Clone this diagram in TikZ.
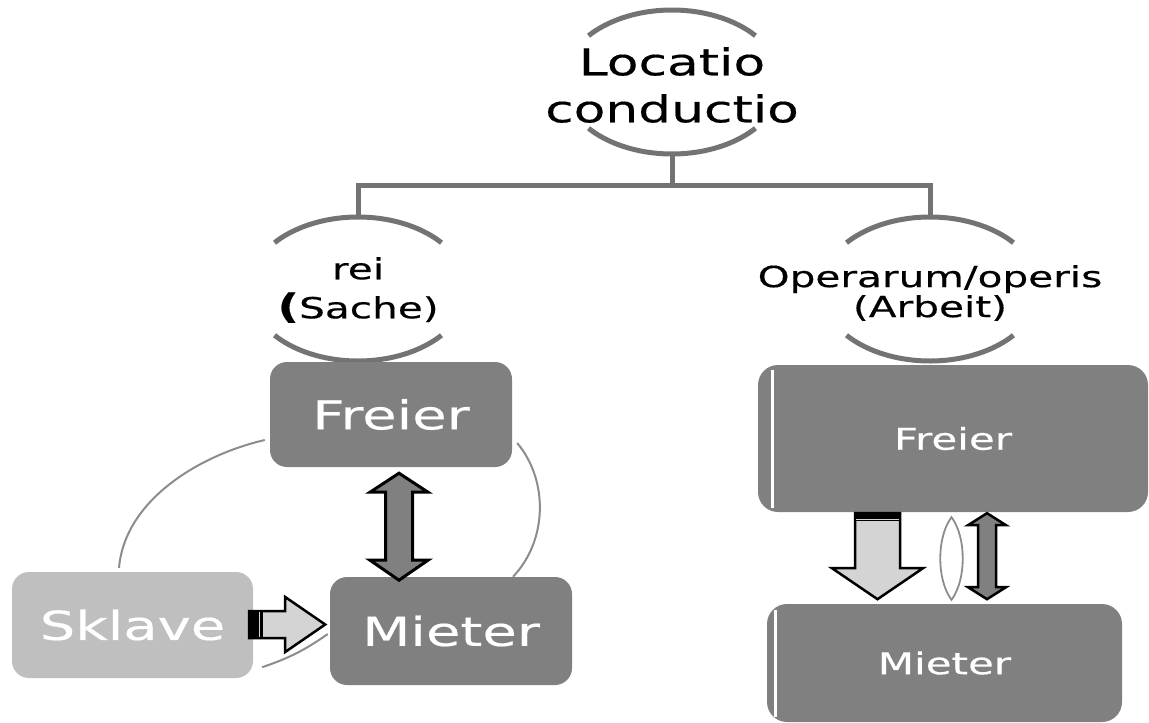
\documentclass[tikz,border=0pt]{standalone}
\usepackage{fontspec}
\setmainfont{DejaVu Sans}[FakeStretch=1.4,FakeBold=0.4]
\usetikzlibrary{shapes.geometric}
\definecolor{boxgray}{RGB}{128,128,128}
\definecolor{slavegray}{RGB}{191,191,191}
\definecolor{linegray}{RGB}{115,115,115}
\definecolor{thingray}{RGB}{140,140,140}
\definecolor{shaftgray}{RGB}{212,212,212}

\begin{document}
\begin{tikzpicture}[x=1pt,y=1pt,
    circ node/.style={ellipse,minimum width=218pt,minimum height=144pt,inner sep=0pt},
    circ arc/.style={linegray,line width=5pt},
    tree line/.style={linegray,line width=5pt},
    big text/.style={align=center,inner sep=0pt,font=\fontsize{37pt}{47pt}\selectfont},
    mid text/.style={align=center,inner sep=0pt,font=\fontsize{29pt}{#1}\selectfont},
    box node/.style={rectangle,rounded corners=17pt,fill=boxgray,text=white,inner sep=0pt,font=\fontsize{40pt}{46pt}\selectfont},
    wide node/.style={box node,rounded corners=20pt,font=\fontsize{30pt}{36pt}\selectfont},
    thin arc/.style={thingray,line width=2pt},
    dbl arrow/.style={fill=boxgray,draw=black,line width=3pt,line join=miter},
    block arrow/.style={fill=shaftgray,draw=black,line width=2.5pt,line join=miter}]
    \useasboundingbox (0,0) rectangle (1149,-723);

    \node[circ node] (loccirc) at (672,-82) {};
    \node[big text] (loc) at (672,-85) {Locatio\\conductio};

    \node[circ node] (reicirc) at (358,-289) {};
    \node[mid text=39pt] (rei) at (358,-290) {rei\\{\fontsize{34pt}{34pt}\selectfont\bfseries(}Sache)};

    \node[circ node] (opercirc) at (930,-289) {};
    \node[mid text=30pt] (oper) at (930,-293) {Operarum/operis\\(Arbeit)};

    \foreach \c in {loccirc,reicirc,opercirc}{
        \draw[circ arc] (\c) ++(40:109 and 72) arc[start angle=40,end angle=140,x radius=109,y radius=72];
        \draw[circ arc] (\c) ++(220:109 and 72) arc[start angle=220,end angle=320,x radius=109,y radius=72];
    }

    \draw[tree line] (loccirc.south) -- ++(0,-31) coordinate (fork);
    \draw[tree line] (reicirc.north) |- (fork) -| (opercirc.north);

    \node[box node,minimum width=242pt,minimum height=105pt] (lfreier) at (391,-414.5) {Freier};
    \node[box node,fill=slavegray,minimum width=241pt,minimum height=106pt] (sklave) at (132.5,-625) {Sklave};
    \node[box node,minimum width=242pt,minimum height=108pt] (lmieter) at (451,-631) {Mieter};

    \node[wide node,minimum width=390pt,minimum height=147pt] (rfreier) at (953,-438.5) {Freier};
    \node[wide node,minimum width=355pt,minimum height=118pt] (rmieter) at (944.5,-663) {Mieter};
    \draw[white,line width=3pt] ([xshift=15pt,yshift=-5pt]rfreier.north west) -- ([xshift=15pt,yshift=4pt]rfreier.south west);
    \draw[white,line width=3pt] ([xshift=9pt,yshift=-6pt]rmieter.north west) -- ([xshift=9pt,yshift=5pt]rmieter.south west);

    \draw[thin arc] ([xshift=-5pt,yshift=-25.5pt]lfreier.west) .. controls +(-65,-15) and +(6,68) .. ([xshift=-13.5pt,yshift=4pt]sklave.north);
    \draw[thin arc] ([xshift=5pt,yshift=-28.5pt]lfreier.east) .. controls +(31,-37) and +(35,37) .. ([xshift=62pt]lmieter.north);
    \draw[thin arc] ([xshift=9pt,yshift=11pt]sklave.south east) to[bend right=8] ([xshift=-2pt,yshift=-3pt]lmieter.west);

    \draw[dbl arrow] ([xshift=8pt,yshift=-6pt]lfreier.south) -- ++(29,-19) -- ++(-15.5,0) -- ++(0,-68) -- ++(15.5,0)
        -- ++(-29,-20) -- ++(-29,20) -- ++(15.5,0) -- ++(0,68) -- ++(-15.5,0) -- cycle;

    \draw[block arrow] ([xshift=-4pt,yshift=14pt]sklave.east) -- ++(36,0) -- ++(0,14) -- ++(40,-27.5)
        -- ++(-40,-27.5) -- ++(0,14) -- ++(-36,0) -- cycle;
    \fill[black] ([xshift=-4pt,yshift=14pt]sklave.east) rectangle ++(14,-27);
    \draw[shaftgray,line width=1pt] ([xshift=6pt,yshift=13pt]sklave.east) -- ++(0,-25);

    \draw[block arrow] ([xshift=-98pt,yshift=-1pt]rfreier.south) -- ++(45,0) -- ++(0,-55) -- ++(23,0)
        -- ++(-45.5,-31) -- ++(-45.5,31) -- ++(23,0) -- cycle;
    \fill[black] ([xshift=-98pt,yshift=-1pt]rfreier.south) rectangle ++(45,-8);
    \draw[shaftgray,line width=1pt] ([xshift=-97pt,yshift=-7pt]rfreier.south) -- ++(43,0);

    \draw[thin arc,line width=1.8pt] ([xshift=-1.5pt,yshift=-5pt]rfreier.south) .. controls +(-15,-20) and +(-15,20) .. ([xshift=7pt,yshift=4pt]rmieter.north)
        .. controls +(15,20) and +(15,-20) .. cycle;

    \draw[dbl arrow,line width=2.5pt] ([xshift=34pt,yshift=-1pt]rfreier.south) -- ++(19,-12) -- ++(-10,0) -- ++(0,-62) -- ++(10,0)
        -- ++(-19,-12) -- ++(-19,12) -- ++(10,0) -- ++(0,62) -- ++(-10,0) -- cycle;
\end{tikzpicture}
\end{document}
